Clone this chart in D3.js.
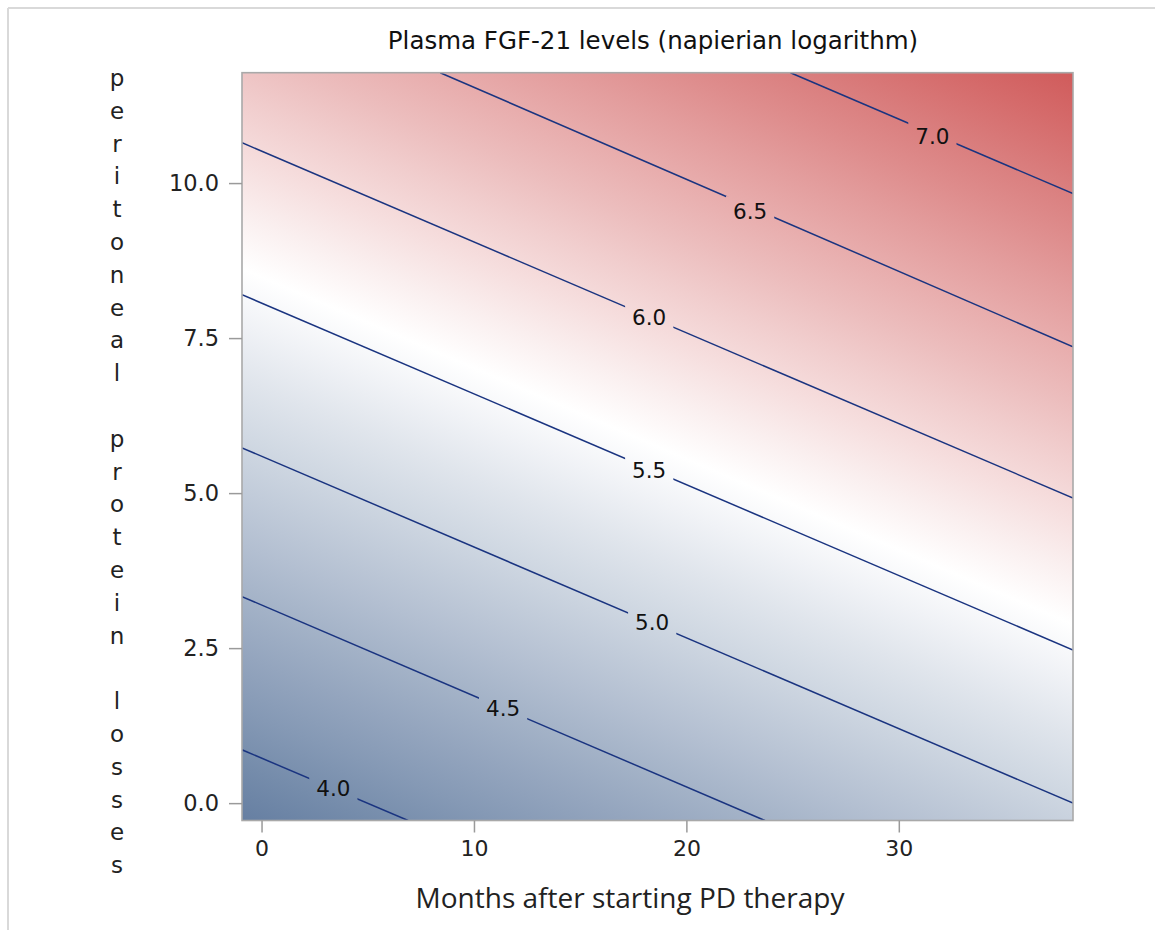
<!DOCTYPE html>
<html>
<head>
<meta charset="utf-8">
<script src="https://cdn.jsdelivr.net/npm/d3@7"></script>
<style>
  html, body { margin: 0; padding: 0; background: #ffffff; }
  svg { display: block; }
</style>
</head>
<body>
<svg id="chart" width="1155" height="930"></svg>
<script>
// ---------------- data ----------------
const titleText = "Plasma FGF-21 levels (napierian logarithm)";
const xLabel = "Months after starting PD therapy";
const yLabel = "peritoneal protein losses";

const xDomain = [-0.92, 38.2];
const yDomain = [-0.28, 11.78];
const xTicks = [0, 10, 20, 30];
const yTicks = [0.0, 2.5, 5.0, 7.5, 10.0];

// fitted surface value at the four corners of the plot region
// rows: [yMin, yMax], cols: [xMin, xMax]
const cornerZ = [[3.77, 4.94], [6.23, 7.40]];

const rampColors = ["#667FA2", "#FFFFFF", "#D05B5B"];

const contourLevels = [4.0, 4.5, 5.0, 5.5, 6.0, 6.5, 7.0];
const contourPaths = [
  [[-0.92, 0.86], [6.9, -0.28]],
  [[-0.92, 3.33], [23.7, -0.28]],
  [[-0.92, 5.73], [38.2, 0.0]],
  [[-0.92, 8.20], [38.2, 2.47]],
  [[-0.92, 10.65], [38.2, 4.92]],
  [[8.41, 11.78], [38.2, 7.36]],
  [[24.9, 11.78], [38.2, 9.83]]
];
const contourLabelPos = [
  [3.38, 0.23],
  [11.37, 1.52],
  [18.39, 2.92],
  [18.25, 5.36],
  [18.25, 7.84],
  [23.0, 9.54],
  [31.58, 10.75]
];

// ---------------- layout ----------------
const plot = { left: 242, right: 1073, top: 72.7, bottom: 820.5 };
const svg = d3.select("#chart");
const defs = svg.append("defs");

const x = d3.scaleLinear().domain(xDomain).range([plot.left, plot.right]);
const y = d3.scaleLinear().domain(yDomain).range([plot.bottom, plot.top]);

// outer figure border (light grey)
svg.append("line").attr("x1", 8).attr("y1", 8).attr("x2", 1155).attr("y2", 8)
  .attr("stroke", "#d9d9d9").attr("stroke-width", 2);
svg.append("line").attr("x1", 8).attr("y1", 8).attr("x2", 8).attr("y2", 930)
  .attr("stroke", "#d9d9d9").attr("stroke-width", 2);

// ---------------- colour field ----------------
const zMin = d3.min(cornerZ.flat()), zMax = d3.max(cornerZ.flat());
const color = d3.scaleLinear()
  .domain([zMin, (zMin + zMax) / 2, zMax])
  .range(rampColors)
  .interpolate(d3.interpolateRgb);

const px0 = x(xDomain[0]), px1 = x(xDomain[1]);
const py0 = y(yDomain[0]), py1 = y(yDomain[1]);
const gx = (cornerZ[0][1] - cornerZ[0][0]) / (px1 - px0);
const gy = (cornerZ[1][0] - cornerZ[0][0]) / (py1 - py0);
const g2 = gx * gx + gy * gy;
const zStart = cornerZ[0][0], zEnd = cornerZ[1][1];
const grad = defs.append("linearGradient")
  .attr("id", "zgrad")
  .attr("gradientUnits", "userSpaceOnUse")
  .attr("x1", px0).attr("y1", py0)
  .attr("x2", px0 + gx * (zEnd - zStart) / g2)
  .attr("y2", py0 + gy * (zEnd - zStart) / g2);
d3.range(0, 1.0001, 0.05).forEach(t => {
  grad.append("stop").attr("offset", t)
    .attr("stop-color", color(zStart + t * (zEnd - zStart)));
});

svg.append("rect")
  .attr("x", plot.left).attr("y", plot.top)
  .attr("width", plot.right - plot.left).attr("height", plot.bottom - plot.top)
  .attr("fill", "url(#zgrad)");

// ---------------- contour labels (measured first for gaps) ----------------
const clip = defs.append("clipPath").attr("id", "plotclip");
clip.append("rect")
  .attr("x", plot.left).attr("y", plot.top)
  .attr("width", plot.right - plot.left).attr("height", plot.bottom - plot.top);

const mask = defs.append("mask").attr("id", "labelmask")
  .attr("maskUnits", "userSpaceOnUse")
  .attr("x", 0).attr("y", 0).attr("width", 1155).attr("height", 930);
mask.append("rect").attr("x", 0).attr("y", 0).attr("width", 1155).attr("height", 930)
  .attr("fill", "white");

const lineGen = d3.line().x(d => x(d[0])).y(d => y(d[1]));
const contourG = svg.append("g").attr("clip-path", "url(#plotclip)");
const linesG = contourG.append("g").attr("mask", "url(#labelmask)");
linesG.selectAll("path").data(contourPaths).join("path")
  .attr("d", d => lineGen(d))
  .attr("fill", "none")
  .attr("stroke", "#1a3480")
  .attr("stroke-width", 1.5);

const labelsG = contourG.append("g");
const labels = labelsG.selectAll("text").data(contourLevels).join("text")
  .attr("x", (d, i) => x(contourLabelPos[i][0]))
  .attr("y", (d, i) => y(contourLabelPos[i][1]))
  .attr("text-anchor", "middle")
  .attr("dominant-baseline", "central")
  .attr("font-family", "DejaVu Sans, sans-serif")
  .attr("font-size", 21.5)
  .attr("fill", "#111")
  .text(d => d.toFixed(1));
labels.each(function () {
  const b = this.getBBox();
  mask.append("rect")
    .attr("x", b.x - 7).attr("y", b.y - 3)
    .attr("width", b.width + 14).attr("height", b.height + 6)
    .attr("fill", "black");
});

// ---------------- frame & axes ----------------
svg.append("rect")
  .attr("x", plot.left).attr("y", plot.top)
  .attr("width", plot.right - plot.left).attr("height", plot.bottom - plot.top)
  .attr("fill", "none").attr("stroke", "#a9a9a9").attr("stroke-width", 1.6);

const xAxis = d3.axisBottom(x).tickValues(xTicks).tickFormat(d3.format("d"))
  .tickSize(12).tickPadding(8);
const gX = svg.append("g").attr("transform", `translate(0,${plot.bottom})`).call(xAxis);
gX.select(".domain").remove();
gX.selectAll(".tick line").attr("stroke", "#9a9a9a").attr("stroke-width", 1.5);
gX.selectAll(".tick text").attr("font-family", "DejaVu Sans, sans-serif")
  .attr("font-size", 22).attr("fill", "#222");

const yAxis = d3.axisLeft(y).tickValues(yTicks).tickFormat(d3.format(".1f"))
  .tickSize(13).tickPadding(10);
const gY = svg.append("g").attr("transform", `translate(${plot.left},0)`).call(yAxis);
gY.select(".domain").remove();
gY.selectAll(".tick line").attr("stroke", "#9a9a9a").attr("stroke-width", 1.5);
gY.selectAll(".tick text").attr("font-family", "DejaVu Sans, sans-serif")
  .attr("font-size", 22.5).attr("fill", "#222");

// ---------------- titles ----------------
svg.append("text")
  .attr("x", 653).attr("y", 49)
  .attr("text-anchor", "middle")
  .attr("font-family", "DejaVu Sans, sans-serif")
  .attr("font-size", 24.5)
  .attr("fill", "#111")
  .text(titleText);

svg.append("text")
  .attr("x", 630).attr("y", 908)
  .attr("text-anchor", "middle")
  .attr("font-family", "Open Sans, sans-serif")
  .attr("font-size", 28)
  .attr("fill", "#222")
  .text(xLabel);

// vertical stacked y label: one character per slot
const yChars = Array.from(yLabel);
const slot = 32.8;
svg.append("g").selectAll("text").data(yChars).join("text")
  .attr("x", 117)
  .attr("y", (d, i) => 78 + i * slot)
  .attr("text-anchor", "middle")
  .attr("dominant-baseline", "central")
  .attr("font-family", "DejaVu Sans, sans-serif")
  .attr("font-size", 23)
  .attr("fill", "#222")
  .text(d => d);
</script>
</body>
</html>
